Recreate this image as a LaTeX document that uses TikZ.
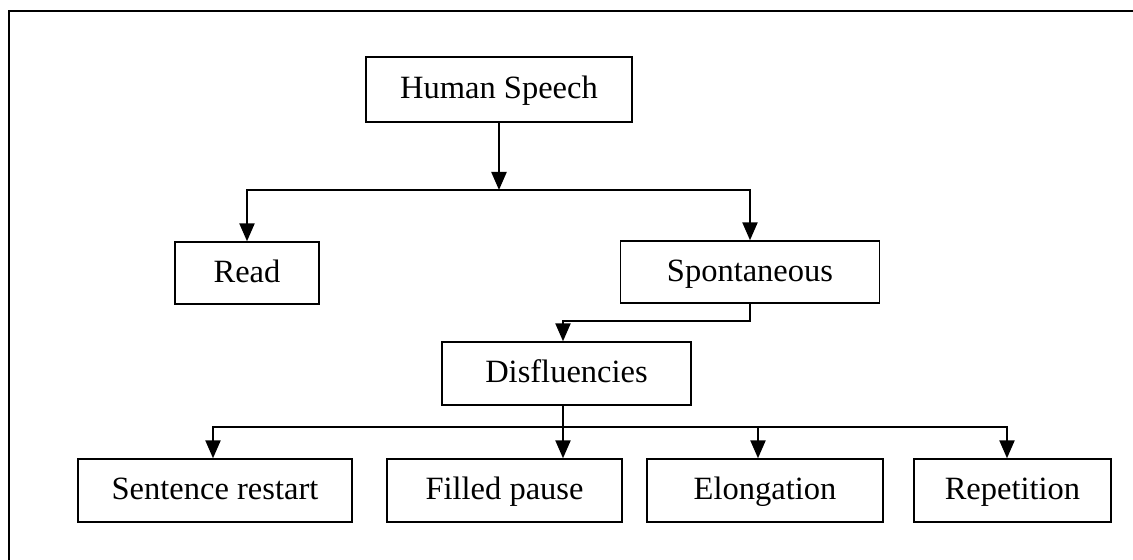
\documentclass[tikz,border=0pt]{standalone}
\usepackage{fontspec}
\setmainfont{Liberation Serif}
\usetikzlibrary{arrows.meta}

\begin{document}
\begin{tikzpicture}[x=0.02cm, y=-0.02cm,
    box/.style={draw, line width=0.8pt, minimum height=1.26cm, inner sep=0pt,
        text height=13pt, text depth=2.4pt, font=\fontsize{18.5}{22}\selectfont},
    arr/.style={line width=1.3pt, -{Triangle[width=0.3cm, length=0.36cm]}}]
    \useasboundingbox (0, 0) rectangle (1133, 560);
    \draw[line width=1.7pt] (1140, 11) -- (9, 11) -- (9, 570);

    \node[box, minimum width=5.32cm, minimum height=1.3cm](hs) at (499, 89.5) {Human Speech};
    \node[box, minimum width=2.88cm, minimum height=1.24cm](read) at (247, 273) {Read};
    \node[box, minimum width=5.18cm, minimum height=1.24cm](spont) at (750, 272) {Spontaneous};
    \node[box, minimum width=4.98cm](disf) at (566.5, 373.5) {Disfluencies};

    \node[box, minimum width=5.48cm](sr) at (215, 490.5) {Sentence restart};
    \node[box, minimum width=4.70cm](fp) at (504.5, 490.5) {Filled pause};
    \node[box, minimum width=4.72cm](el) at (765, 490.5) {Elongation};
    \node[box, minimum width=3.94cm](rep) at (1012.5, 490.5) {Repetition};

    \coordinate (split) at (499, 190);
    \draw[arr] (hs.south) -- (split);
    \draw[arr] (split) -| (read.north);
    \draw[arr] (split) -| (spont.north);

    \draw[arr] (spont.south) -- ++(0, 17) -| ([xshift=-0.07cm]disf.north);

    \coordinate (fan) at (563, 427);
    \draw[arr] ([xshift=-0.07cm]disf.south) -- ([xshift=-0.07cm]disf.south |- fp.north);
    \draw[arr] (fan) -| ([xshift=-0.04cm]sr.north);
    \draw[arr] (fan) -| ([xshift=-0.14cm]el.north);
    \draw[arr] (fan) -| ([xshift=-0.11cm]rep.north);
\end{tikzpicture}
\end{document}
